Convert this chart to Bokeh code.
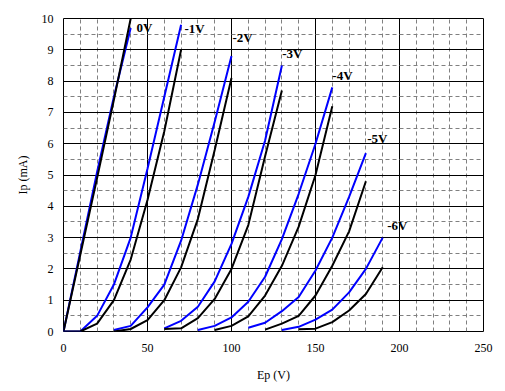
from bokeh.plotting import figure
from bokeh.models import FixedTicker, Range1d
from bokeh.core.properties import value
from bokeh.embed import file_html
from bokeh.resources import INLINE

# Grid-voltage curves: plate voltage Ep (V) and plate current Ip (mA)
ep_0_blue = [0, 10, 20, 30, 40]
ip_0_blue = [0, 2.55, 5.1, 7.5, 9.7]
ep_0_black = [0, 10, 20, 30, 40]
ip_0_black = [0, 2.45, 4.9, 7.4, 10.0]

ep_1_blue = [0, 10, 20, 30, 40, 50, 60, 70]
ip_1_blue = [0, 0, 0.5, 1.5, 3.0, 5.2, 7.5, 9.8]
ep_1_black = [0, 10, 20, 30, 40, 50, 60, 70]
ip_1_black = [0, 0, 0.25, 1.0, 2.3, 4.2, 6.4, 9.0]

ep_2_blue = [30, 40, 50, 60, 70, 80, 90, 100]
ip_2_blue = [0.05, 0.18, 0.77, 1.5, 2.9, 4.7, 6.7, 8.8]
ep_2_black = [30, 40, 50, 60, 70, 80, 90, 100]
ip_2_black = [0, 0.08, 0.36, 1.0, 2.05, 3.6, 5.8, 8.1]

ep_3_blue = [60, 70, 80, 90, 100, 110, 120, 130]
ip_3_blue = [0.1, 0.34, 0.79, 1.6, 2.8, 4.3, 6.1, 8.5]
ep_3_black = [60, 70, 80, 90, 100, 110, 120, 130]
ip_3_black = [0.08, 0.1, 0.43, 1.04, 2.0, 3.4, 5.6, 7.7]

ep_4_blue = [80, 90, 100, 110, 120, 130, 140, 150, 160]
ip_4_blue = [0.05, 0.18, 0.45, 0.95, 1.75, 2.95, 4.4, 6.0, 7.8]
ep_4_black = [90, 100, 110, 120, 130, 140, 150, 160]
ip_4_black = [0.05, 0.18, 0.48, 1.15, 2.1, 3.35, 5.0, 7.2]

ep_5_blue = [110, 120, 130, 140, 150, 160, 170, 180]
ip_5_blue = [0.12, 0.28, 0.65, 1.1, 1.95, 3.0, 4.3, 5.7]
ep_5_black = [120, 130, 140, 150, 160, 170, 180]
ip_5_black = [0.06, 0.25, 0.5, 1.15, 2.1, 3.2, 4.8]

ep_6_blue = [130, 140, 150, 160, 170, 180, 190]
ip_6_blue = [0.05, 0.15, 0.38, 0.7, 1.25, 2.0, 3.0]
ep_6_black = [140, 150, 160, 170, 180, 190]
ip_6_black = [0.07, 0.09, 0.3, 0.67, 1.2, 2.05]

curve_labels = ["0V", "-1V", "-2V", "-3V", "-4V", "-5V", "-6V"]
label_ep = [43.5, 72, 100.6, 130.2, 160, 180.8, 192.7]
label_ip = [9.72, 9.68, 9.38, 8.88, 8.17, 6.17, 3.4]

x_ticks = [0, 50, 100, 150, 200, 250]
y_ticks = [0, 1, 2, 3, 4, 5, 6, 7, 8, 9, 10]
x_minor = [v for v in range(0, 251, 10) if v % 50 != 0]
y_minor = [v + 0.5 for v in range(0, 10)]

p = figure(frame_width=420, frame_height=313,
           x_range=Range1d(0, 250), y_range=Range1d(0, 10),
           output_backend="svg", toolbar_location=None,
           min_border_left=63, min_border_right=14,
           min_border_top=18, min_border_bottom=52,
           background_fill_color="white", border_fill_color="white")

p.outline_line_color = "black"
p.outline_line_width = 1
p.outline_line_alpha = 1

for g, major, minor in ((p.xgrid, x_ticks, x_minor), (p.ygrid, y_ticks, y_minor)):
    g.ticker = FixedTicker(ticks=major, minor_ticks=minor)
    g.grid_line_color = "black"
    g.grid_line_alpha = 1
    g.grid_line_width = 1
    g.minor_grid_line_color = "#808080"
    g.minor_grid_line_alpha = 1
    g.minor_grid_line_width = 1
    g.minor_grid_line_dash = "4 3"

p.xaxis.ticker = FixedTicker(ticks=x_ticks)
p.yaxis.ticker = FixedTicker(ticks=y_ticks)

for ax in (p.xaxis, p.yaxis):
    ax.axis_line_color = None
    ax.major_tick_line_color = None
    ax.minor_tick_line_color = None
    ax.major_tick_out = 0
    ax.major_tick_in = 0
    ax.major_label_text_font = "Liberation Serif"
    ax.major_label_text_font_size = "12px"
    ax.major_label_text_color = "black"
    ax.axis_label_text_font = "Liberation Serif"
    ax.axis_label_text_font_size = "12px"
    ax.axis_label_text_font_style = "normal"
    ax.axis_label_text_color = "black"

p.xaxis.axis_label = "Ep (V)"
p.yaxis.axis_label = "Ip (mA)"
p.xaxis.major_label_standoff = 12
p.yaxis.major_label_standoff = 10
p.xaxis.axis_label_standoff = 13
p.yaxis.axis_label_standoff = 9

series = [
    (ep_0_blue, ip_0_blue, ep_0_black, ip_0_black),
    (ep_1_blue, ip_1_blue, ep_1_black, ip_1_black),
    (ep_2_blue, ip_2_blue, ep_2_black, ip_2_black),
    (ep_3_blue, ip_3_blue, ep_3_black, ip_3_black),
    (ep_4_blue, ip_4_blue, ep_4_black, ip_4_black),
    (ep_5_blue, ip_5_blue, ep_5_black, ip_5_black),
    (ep_6_blue, ip_6_blue, ep_6_black, ip_6_black),
]
for eb, ib, ek, ik in series:
    p.line(eb, ib, line_color="#0000ff", line_width=2)
    p.line(ek, ik, line_color="black", line_width=2)

p.text(x=label_ep, y=label_ip, text=curve_labels,
       text_font=value("Liberation Serif"), text_font_style="bold",
       text_font_size="13px", text_color="black",
       text_align="left", text_baseline="middle")

open("out.html", "w").write(file_html(p, INLINE))
